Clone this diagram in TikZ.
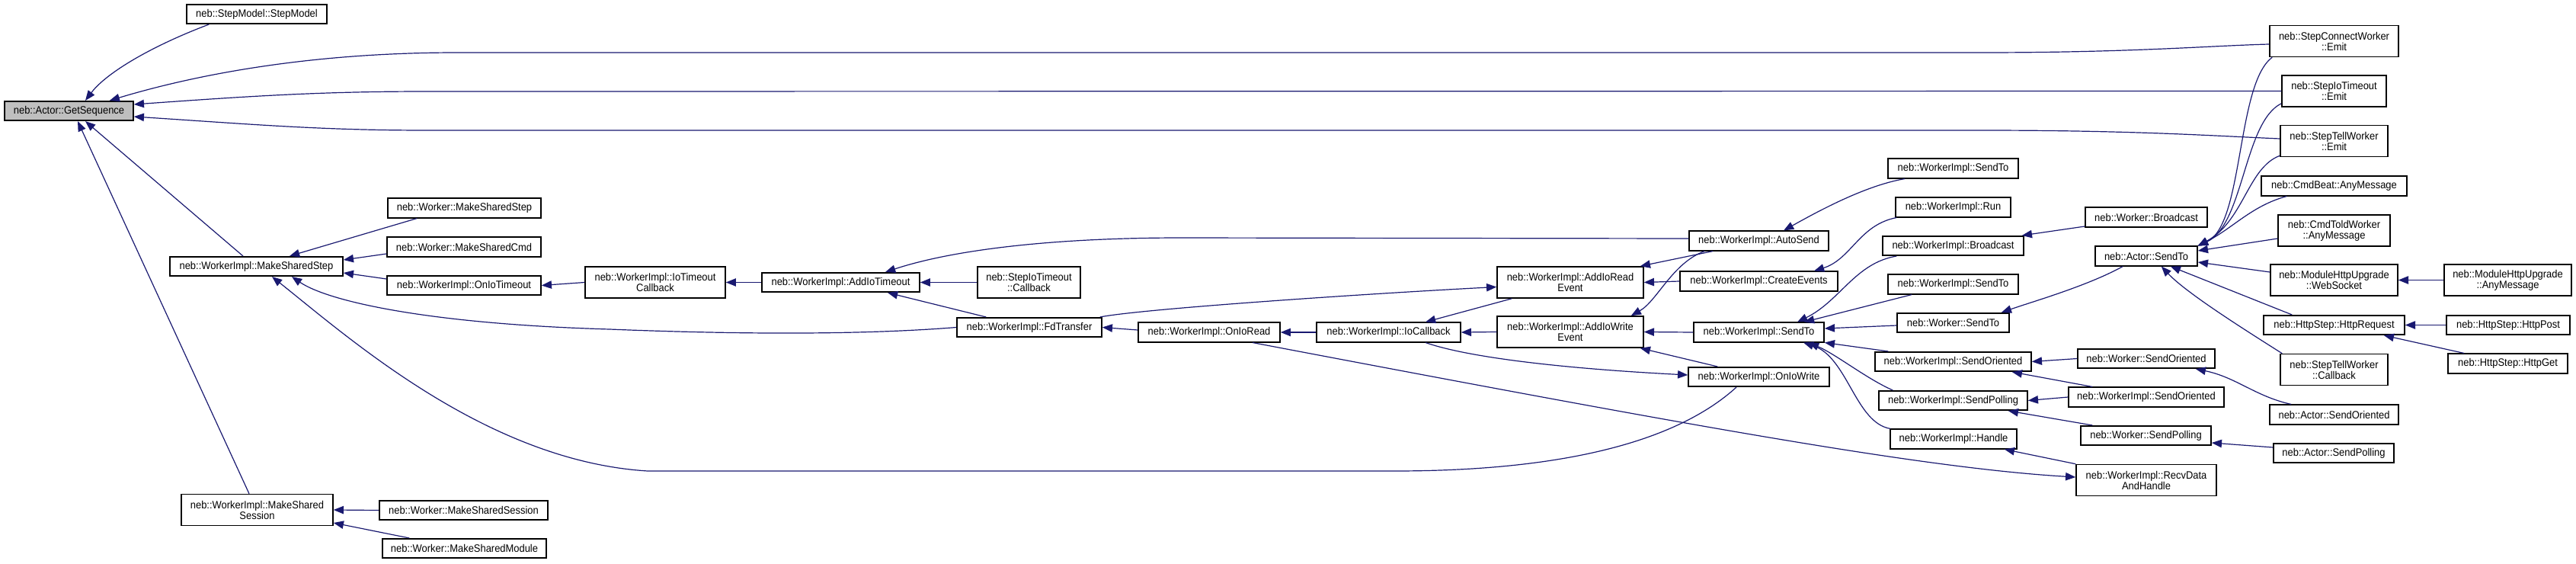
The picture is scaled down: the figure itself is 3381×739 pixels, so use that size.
\documentclass[tikz,border=0pt]{standalone}
\usepackage{fontspec}
\setmainfont{Liberation Sans}[FakeStretch=0.92]
\usetikzlibrary{arrows.meta,calc}
\definecolor{edgeblue}{RGB}{25,25,112}
\definecolor{seqgray}{RGB}{191,191,191}

\begin{document}
\begin{tikzpicture}[x=0.25mm,y=-0.25mm,
  fn/.style={draw=black,line width=1.1pt,fill=white,inner sep=1pt,minimum height=25.5*0.25mm,font=\fontsize{10}{10}\selectfont},
  fnn/.style={fn,align=center,minimum height=41*0.25mm},
  bw/.style={minimum width=#1*0.25mm},
  call/.style={{Triangle[length=3.3mm,width=2.6mm]}-,draw=edgeblue,line width=0.85pt}]
\useasboundingbox (0,0) rectangle (3381,739);
\node[fn,bw=169,fill=seqgray] (seq) at (90.5,145.5) {neb::Actor::GetSequence};
\node[fn,bw=184] (stepmodel) at (337,18.5) {neb::StepModel::StepModel};
\node[fn,bw=227] (wimss) at (336.5,349.5) {neb::WorkerImpl::MakeSharedStep};
\node[fnn,bw=199] (wimssess) at (337.5,669) {neb::WorkerImpl::MakeShared\\Session};
\node[fn,bw=201] (wmss) at (609.5,273) {neb::Worker::MakeSharedStep};
\node[fn,bw=202] (wmscmd) at (609,324) {neb::Worker::MakeSharedCmd};
\node[fn,bw=202] (onto) at (609,374.5) {neb::WorkerImpl::OnIoTimeout};
\node[fn,bw=221] (wmsess) at (608.5,669.5) {neb::Worker::MakeSharedSession};
\node[fn,bw=215] (wmsmod) at (609.5,719.5) {neb::Worker::MakeSharedModule};
\node[fnn,bw=184] (iotocb) at (860,370.5) {neb::WorkerImpl::IoTimeout\\Callback};
\node[fn,bw=207] (addto) at (1103.5,370.5) {neb::WorkerImpl::AddIoTimeout};
\node[fnn,bw=135] (stepiocb) at (1350.5,370.5) {neb::StepIoTimeout\\::Callback};
\node[fn,bw=190] (fdtr) at (1351,429.5) {neb::WorkerImpl::FdTransfer};
\node[fn,bw=186] (onread) at (1587,436) {neb::WorkerImpl::OnIoRead};
\node[fn,bw=189] (iocb) at (1822.5,436) {neb::WorkerImpl::IoCallback};
\node[fnn,bw=192] (addrd) at (2061,370.5) {neb::WorkerImpl::AddIoRead\\Event};
\node[fnn,bw=192] (addwr) at (2061,435.5) {neb::WorkerImpl::AddIoWrite\\Event};
\node[fn,bw=183] (autosend) at (2308.5,316) {neb::WorkerImpl::AutoSend};
\node[fn,bw=207] (createev) at (2308.5,369) {neb::WorkerImpl::CreateEvents};
\node[fn,bw=171] (wisendto) at (2308.5,436) {neb::WorkerImpl::SendTo};
\node[fn,bw=185] (onwrite) at (2308.5,494.5) {neb::WorkerImpl::OnIoWrite};
\node[fn,bw=171] (wisendtoa) at (2563.5,221) {neb::WorkerImpl::SendTo};
\node[fn,bw=151] (run) at (2563.5,272) {neb::WorkerImpl::Run};
\node[fn,bw=185] (wibcast) at (2563.5,322.5) {neb::WorkerImpl::Broadcast};
\node[fn,bw=171] (wisendtob) at (2563.5,373) {neb::WorkerImpl::SendTo};
\node[fn,bw=147] (wsendto) at (2563.5,423.5) {neb::Worker::SendTo};
\node[fn,bw=205] (wisendor) at (2563.5,474.5) {neb::WorkerImpl::SendOriented};
\node[fn,bw=195] (wisendpoll) at (2563.5,525.5) {neb::WorkerImpl::SendPolling};
\node[fn,bw=166] (handle) at (2564,576) {neb::WorkerImpl::Handle};
\node[fn,bw=160] (wbcast) at (2817,285) {neb::Worker::Broadcast};
\node[fn,bw=134] (asendto) at (2817,336) {neb::Actor::SendTo};
\node[fn,bw=180] (wsendor) at (2817,470.5) {neb::Worker::SendOriented};
\node[fn,bw=204] (wisendorb) at (2817,521) {neb::WorkerImpl::SendOriented};
\node[fn,bw=171] (wsendpoll) at (2816.5,571.5) {neb::Worker::SendPolling};
\node[fnn,bw=184] (recv) at (2817,630) {neb::WorkerImpl::RecvData\\AndHandle};
\node[fnn,bw=169] (scwemit) at (3063.5,54) {neb::StepConnectWorker\\::Emit};
\node[fnn,bw=137] (stoemit) at (3063.5,119.5) {neb::StepIoTimeout\\::Emit};
\node[fnn,bw=141] (stwemit) at (3063.5,185) {neb::StepTellWorker\\::Emit};
\node[fn,bw=191] (beat) at (3063.5,244) {neb::CmdBeat::AnyMessage};
\node[fnn,bw=147] (told) at (3063.5,302.5) {neb::CmdToldWorker\\::AnyMessage};
\node[fnn,bw=167] (websock) at (3063.5,367.5) {neb::ModuleHttpUpgrade\\::WebSocket};
\node[fn,bw=185] (httpreq) at (3063.5,426.5) {neb::HttpStep::HttpRequest};
\node[fnn,bw=141] (stwcb) at (3063.5,485) {neb::StepTellWorker\\::Callback};
\node[fn,bw=169] (asendor) at (3063.5,544) {neb::Actor::SendOriented};
\node[fn,bw=158] (asendpoll) at (3063,594.5) {neb::Actor::SendPolling};
\node[fnn,bw=167] (mhuany) at (3291.5,367.5) {neb::ModuleHttpUpgrade\\::AnyMessage};
\node[fn,bw=162] (httppost) at (3292,426.5) {neb::HttpStep::HttpPost};
\node[fn,bw=157] (httpget) at (3291.5,477) {neb::HttpStep::HttpGet};
\draw[call] ($(seq.north)+(21.5,0)$) .. controls (140,95) and (200,60) .. ($(stepmodel.south west)+(30,0)$);
\draw[call] ($(seq.north east)+(-32,0)$) .. controls (250,100) and (400,69) .. (600,69) -- (2600,69) .. controls (2800,69) and (2900,60) .. ($(scwemit.west)+(0,4)$);
\draw[call] ($(seq.east)+(0,-8.5)$) .. controls (330,126) and (420,120) .. (560,120) -- (stoemit.west);
\draw[call] ($(seq.east)+(0,7.5)$) .. controls (330,163) and (420,171) .. (560,171) -- (2600,171) .. controls (2800,171) and (2900,178) .. ($(stwemit.west)+(0,-3)$);
\draw[call] ($(seq.south)+(21.5,0)$) -- ($(wimss.north)+(-17.5,0)$);
\draw[call] ($(seq.south)+(11.5,0)$) -- ($(wimssess.north)+(-10.5,0)$);
\draw[call] ($(wimss.north)+(43.5,0)$) -- ($(wmss.south west)+(39,0)$);
\draw[call] ($(wimss.east)+(0,-8.5)$) -- ($(wmscmd.west)+(0,9)$);
\draw[call] ($(wimss.east)+(0,8.5)$) -- ($(onto.west)+(0,-8.5)$);
\draw[call] ($(wimss.south)+(46.5,0)$) .. controls (430,395) and (560,425) .. (800,432) .. controls (1000,440) and (1150,438) .. (fdtr.west);
\draw[call] ($(wimss.south)+(20.5,0)$) .. controls (460,445) and (640,605) .. (850,618) -- (1830,618) .. controls (2050,618) and (2200,580) .. ($(onwrite.south)+(-29.5,0)$);
\draw[call] (wimssess.east) -- (wmsess.west);
\draw[call] ($(wimssess.east)+(0,17)$) -- ($(wmsmod.north west)+(36,0)$);
\draw[call] (onto.east) -- (iotocb.west);
\draw[call] (iotocb.east) -- (addto.west);
\draw[call] (addto.east) -- (stepiocb.west);
\draw[call] ($(addto.north)+(58.5,0)$) .. controls (1250,328) and (1380,312) .. (1550,312) -- ($(autosend.west)+(0,-3)$);
\draw[call] ($(addto.south)+(61.5,0)$) -- ($(fdtr.north west)+(39,0)$);
\draw[call] (fdtr.east) -- ($(onread.west)+(0,-3)$);
\draw[call] ($(addrd.west)+(0,6)$) .. controls (1800,385) and (1500,405) .. ($(fdtr.north east)+(-3,0)$);
\draw[call] (onread.east) -- (iocb.west);
\draw[call] ($(iocb.north)+(48.5,0)$) -- ($(addrd.south west)+(20,0)$);
\draw[call] (iocb.east) -- (addwr.west);
\draw[call] ($(onwrite.west)+(0,-2.5)$) .. controls (2060,484) and (1930,470) .. ($(iocb.south)+(48.5,0)$);
\draw[call] ($(recv.west)+(0,-4)$) .. controls (2520,614) and (2200,555) .. ($(onread.south)+(57,0)$);
\draw[call] ($(addrd.north east)+(-5,0)$) -- ($(autosend.south west)+(32,0)$);
\draw[call] ($(addwr.north east)+(-17,0)$) .. controls (2175,395) and (2195,345) .. ($(autosend.south west)+(21,0)$);
\draw[call] (addrd.east) -- (createev.west);
\draw[call] (addwr.east) -- (wisendto.west);
\draw[call] ($(addwr.south east)+(-5,0)$) -- ($(onwrite.north west)+(39,0)$);
\draw[call] ($(autosend.north)+(32.5,0)$) .. controls (2390,275) and (2450,243) .. ($(wisendtoa.south west)+(23,0)$);
\draw[call] ($(createev.north)+(72.5,0)$) .. controls (2430,340) and (2440,295) .. ($(run.south west)+(2,0)$);
\draw[call] ($(wibcast.north east)+(-3,0)$) -- ($(wbcast.west)+(0,12)$);
\draw[call] ($(wisendto.north)+(50.5,0)$) .. controls (2415,395) and (2435,345) .. ($(wibcast.south west)+(19,0)$);
\draw[call] ($(wisendto.north)+(59.5,0)$) -- ($(wisendtob.south west)+(32,0)$);
\draw[call] ($(wisendto.east)+(0,-5)$) -- ($(wsendto.west)+(0,3.5)$);
\draw[call] (wisendto.south east) -- ($(wisendor.north west)+(18,0)$);
\draw[call] ($(wisendto.south)+(65.5,0)$) .. controls (2410,465) and (2450,497) .. ($(wisendpoll.north west)+(19,0)$);
\draw[call] ($(wisendto.south)+(58.5,0)$) .. controls (2425,468) and (2435,555) .. ($(handle.north west)+(1,0)$);
\draw[call] ($(wsendto.north east)+(-11,0)$) .. controls (2670,395) and (2740,375) .. ($(asendto.south west)+(37,0)$);
\draw[call] (wisendor.east) -- (wsendor.west);
\draw[call] ($(wisendor.south east)+(-26,0)$) -- ($(wisendorb.north west)+(32,0)$);
\draw[call] (wisendpoll.east) -- (wisendorb.west);
\draw[call] ($(wisendpoll.south east)+(-26,0)$) -- ($(wsendpoll.north west)+(16,0)$);
\draw[call] ($(handle.south east)+(-17,0)$) -- (recv.north west);
\draw[call] ($(wsendor.south east)+(-26,0)$) .. controls (2935,495) and (2960,520) .. ($(asendor.north west)+(29,0)$);
\draw[call] ($(wsendpoll.east)+(0,9.5)$) -- ($(asendpoll.west)+(0,-7.5)$);
\draw[call] (asendto.north east) .. controls (2945,295) and (2935,110) .. ($(scwemit.south west)+(4,0)$);
\draw[call] (asendto.north east) .. controls (2945,295) and (2945,160) .. ($(stoemit.south west)+(0,-5)$);
\draw[call] (asendto.north east) .. controls (2945,290) and (2950,220) .. ($(stwemit.south west)+(0,-2)$);
\draw[call] (asendto.north east) .. controls (2930,300) and (2955,270) .. ($(beat.south west)+(34,0)$);
\draw[call] ($(asendto.east)+(0,-7)$) -- ($(told.west)+(0,10.5)$);
\draw[call] ($(asendto.east)+(0,8)$) -- ($(websock.west)+(0,-10.5)$);
\draw[call] ($(asendto.south east)+(-36,0)$) -- ($(httpreq.north west)+(38,0)$);
\draw[call] ($(asendto.south east)+(-48,0)$) .. controls (2870,385) and (2950,435) .. ($(stwcb.north west)+(3,0)$);
\draw[call] (websock.east) -- (mhuany.west);
\draw[call] (httpreq.east) -- (httppost.west);
\draw[call] ($(httpreq.south east)+(-28,0)$) -- ($(httpget.north west)+(22,0)$);
\end{tikzpicture}
\end{document}
